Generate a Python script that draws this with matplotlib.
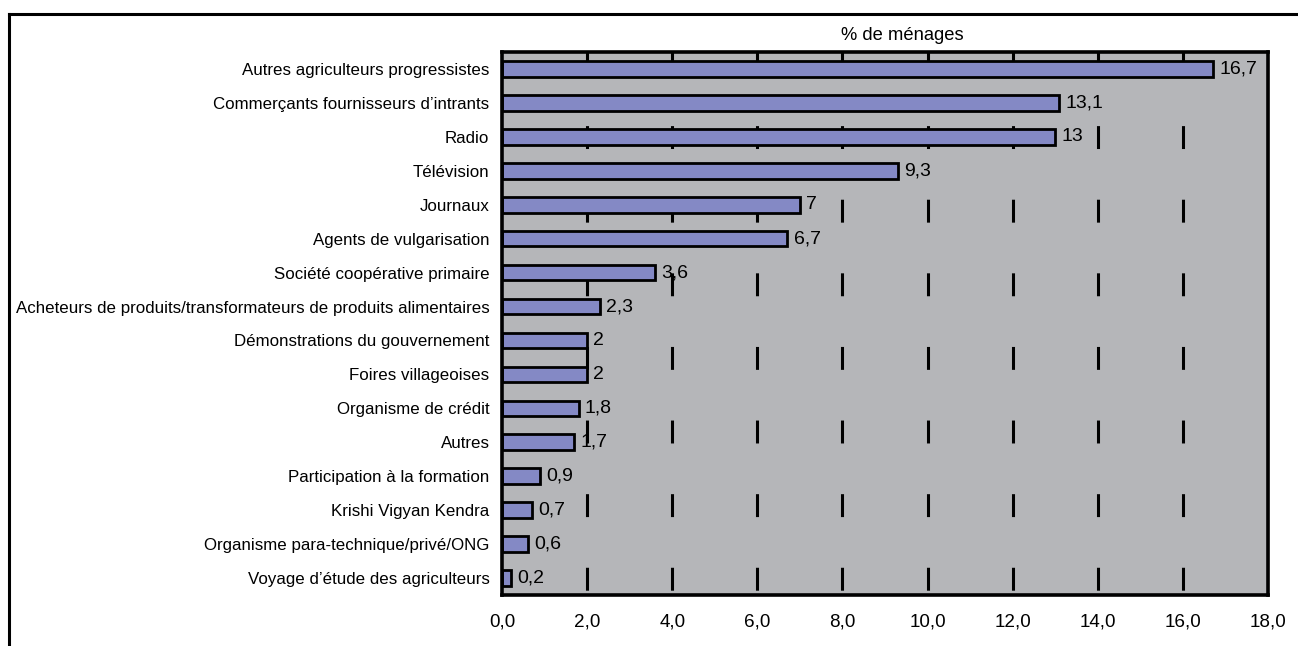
import matplotlib
matplotlib.use("Agg")
import matplotlib.pyplot as plt
from matplotlib.lines import Line2D

plt.rcParams['font.family'] = ['Liberation Sans', 'DejaVu Sans']
plt.rcParams['lines.scale_dashes'] = False

categories = [
    "Autres agriculteurs progressistes",
    "Commerçants fournisseurs d\u2019intrants",
    "Radio",
    "Télévision",
    "Journaux",
    "Agents de vulgarisation",
    "Société coopérative primaire",
    "Acheteurs de produits/transformateurs de produits alimentaires",
    "Démonstrations du gouvernement",
    "Foires villageoises",
    "Organisme de crédit",
    "Autres",
    "Participation à la formation",
    "Krishi Vigyan Kendra",
    "Organisme para-technique/privé/ONG",
    "Voyage d\u2019étude des agriculteurs",
]
values = [16.7, 13.1, 13, 9.3, 7, 6.7, 3.6, 2.3, 2, 2, 1.8, 1.7, 0.9, 0.7, 0.6, 0.2]
value_labels = ["16,7", "13,1", "13", "9,3", "7", "6,7", "3,6", "2,3",
                "2", "2", "1,8", "1,7", "0,9", "0,7", "0,6", "0,2"]
xticks = [0, 2, 4, 6, 8, 10, 12, 14, 16, 18]
xtick_labels = ["0,0", "2,0", "4,0", "6,0", "8,0", "10,0", "12,0", "14,0", "16,0", "18,0"]

fig = plt.figure(figsize=(12.98, 6.46), dpi=100)
ax = fig.add_axes([502 / 1298, 1 - 595 / 646, 766 / 1298, 543 / 646])
ax.set_facecolor('#B5B6B9')

ypos = list(range(len(categories)))
ax.set_xlim(0, 18)
ax.set_ylim(len(categories) - 0.5, -0.5)

# dashed grid lines, drawn from the top down
for gx in xticks[1:-1]:
    ax.plot([gx, gx], [-0.5, len(categories) - 0.5], color='black', lw=2.2,
            dashes=(16.5, 36.5), zorder=1, dash_capstyle='butt')

ax.barh(ypos, values, height=0.46, color='#8489C5', edgecolor='black',
        linewidth=2.0, zorder=2)

for y, v, lab in zip(ypos, values, value_labels):
    ax.text(v + 0.15, y, lab, va='center', ha='left', fontsize=14, zorder=3)

ax.set_yticks(ypos)
ax.set_yticklabels(categories, fontsize=12.2)
ax.set_xticks(xticks)
ax.set_xticklabels(xtick_labels, fontsize=13.6)
ax.tick_params(axis='y', length=0, pad=9)
ax.tick_params(axis='x', length=0, pad=13)

for s in ax.spines.values():
    s.set_linewidth(2.6)
    s.set_color('black')

fig.text(902 / 1298, 1 - 35 / 646, "% de ménages", ha='center', va='center', fontsize=13.2)

# outer chart frame (left and top edges only visible)
fx = 9 / 1298
fy = 1 - 14 / 646
fig.add_artist(Line2D([fx, fx], [0, fy], color='black', lw=2.2, transform=fig.transFigure))
fig.add_artist(Line2D([fx, 1], [fy, fy], color='black', lw=2.2, transform=fig.transFigure))

fig.savefig("out.png", dpi=100)
